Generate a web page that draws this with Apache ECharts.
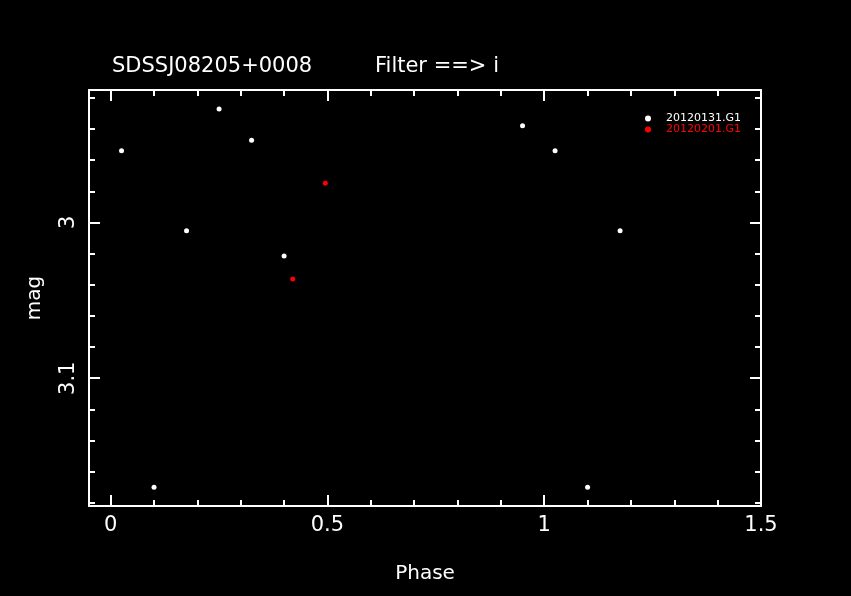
<!DOCTYPE html>
<html>
<head>
<meta charset="utf-8">
<script src="https://cdn.jsdelivr.net/npm/echarts@6/dist/echarts.min.js"></script>
<style>
html,body{margin:0;padding:0;background:#000;}
#c{width:851px;height:596px;}
</style>
</head>
<body>
<div id="c"></div>
<script>
var titleLeft = 'SDSSJ08205+0008';
var titleRight = 'Filter ==> i';
var seriesNames = ['20120131.G1', '20120201.G1'];
var seriesColors = ['#ffffff', '#ff0000'];
var phaseA = [0.025, 0.1, 0.175, 0.25, 0.325, 0.4, 0.95, 1.025, 1.1, 1.175];
var magA = [2.954, 3.170, 3.0054, 2.9272, 2.9472, 3.0216, 2.938, 2.954, 3.170, 3.0054];
var phaseB = [0.42, 0.495];
var magB = [3.0363, 2.9748];
var xMin = -0.05, xMax = 1.5;
var yMin = 2.915, yMax = 3.182;
var xMajorTicks = [0, 0.5, 1, 1.5];
var xMinorTicks = [0.1, 0.2, 0.3, 0.4, 0.6, 0.7, 0.8, 0.9, 1.1, 1.2, 1.3, 1.4];
var xLabels = [0, 0.5, 1, 1.5];
var yMajorTicks = [3, 3.1];
var yMinorTicks = [2.92, 2.94, 2.96, 2.98, 3.02, 3.04, 3.06, 3.08, 3.12, 3.14, 3.16, 3.18];
var yLabels = [3, 3.1];

var FONT = 'DejaVu Sans';
var W = '#ffffff';

function xAxisDef(pos, ticks, len, labels, showLine, name) {
  return {
    type: 'value', position: pos, min: xMin, max: xMax,
    name: name || '', nameLocation: 'middle', nameGap: 58,
    nameTextStyle: {color: W, fontFamily: FONT, fontSize: 20},
    axisLine: {show: showLine, onZero: false, lineStyle: {color: W, width: 2}},
    axisTick: {show: true, inside: true, length: len, customValues: ticks, lineStyle: {color: W, width: 2}},
    axisLabel: labels ? {show: true, customValues: labels, color: W, fontFamily: FONT, fontSize: 21, margin: 9} : {show: false},
    splitLine: {show: false}
  };
}
function yAxisDef(pos, ticks, len, labels, showLine, name) {
  return {
    type: 'value', position: pos, min: yMin, max: yMax, inverse: true,
    name: name || '', nameLocation: 'middle', nameGap: 44,
    nameTextStyle: {color: W, fontFamily: FONT, fontSize: 20},
    axisLine: {show: showLine, onZero: false, lineStyle: {color: W, width: 2}},
    axisTick: {show: true, inside: true, length: len, customValues: ticks, lineStyle: {color: W, width: 2}},
    axisLabel: labels ? {show: true, customValues: labels, rotate: 90, color: W, fontFamily: FONT, fontSize: 21, margin: 10} : {show: false},
    splitLine: {show: false}
  };
}

var chart = echarts.init(document.getElementById('c'));
chart.setOption({
  backgroundColor: '#000000',
  animation: false,
  title: [
    {text: titleLeft, left: 107, top: 51, textStyle: {color: W, fontFamily: FONT, fontSize: 21, fontWeight: 'normal'}},
    {text: titleRight, left: 370, top: 51, textStyle: {color: W, fontFamily: FONT, fontSize: 21, fontWeight: 'normal'}}
  ],
  grid: {left: 89, top: 90, right: 90, bottom: 90, show: false},
  legend: {
    orient: 'vertical', left: 640, top: 108, itemWidth: 6, itemHeight: 6, itemGap: 0,
    icon: 'circle',
    data: [
      {name: seriesNames[0], textStyle: {color: seriesColors[0]}},
      {name: seriesNames[1], textStyle: {color: seriesColors[1]}}
    ],
    textStyle: {fontFamily: FONT, fontSize: 11, lineHeight: 9, padding: [0, 0, 0, 10]}
  },
  xAxis: [
    xAxisDef('bottom', xMajorTicks, 11, xLabels, true, 'Phase'),
    xAxisDef('bottom', xMinorTicks, 6, null, false),
    xAxisDef('top', xMajorTicks, 11, null, true),
    xAxisDef('top', xMinorTicks, 6, null, false)
  ],
  yAxis: [
    yAxisDef('left', yMajorTicks, 11, yLabels, true, 'mag'),
    yAxisDef('left', yMinorTicks, 6, null, false),
    yAxisDef('right', yMajorTicks, 11, null, true),
    yAxisDef('right', yMinorTicks, 6, null, false)
  ],
  series: [
    {name: seriesNames[0], type: 'scatter', xAxisIndex: 0, yAxisIndex: 0, symbol: 'circle', symbolSize: 5,
     itemStyle: {color: seriesColors[0], opacity: 1}, data: phaseA.map(function (p, i) { return [p, magA[i]]; })},
    {name: seriesNames[1], type: 'scatter', xAxisIndex: 0, yAxisIndex: 0, symbol: 'circle', symbolSize: 5,
     itemStyle: {color: seriesColors[1], opacity: 1}, data: phaseB.map(function (p, i) { return [p, magB[i]]; })}
  ]
});
</script>
</body>
</html>
